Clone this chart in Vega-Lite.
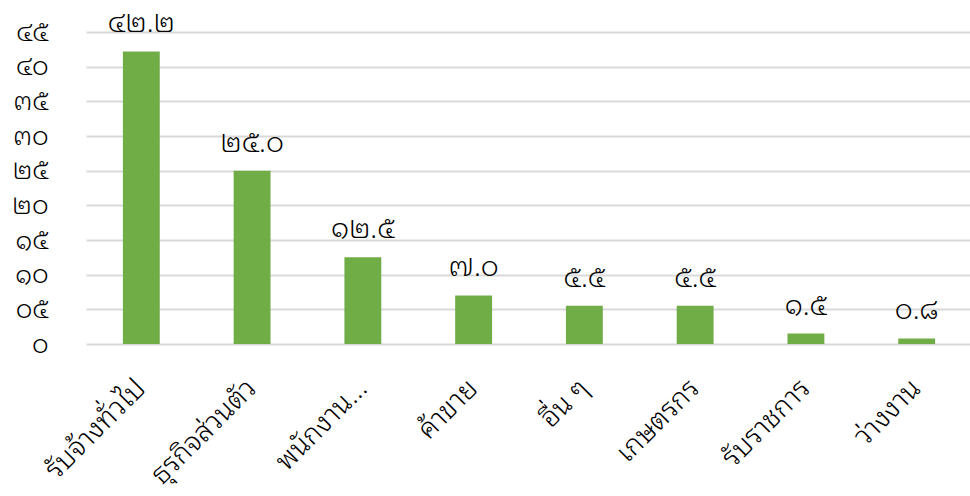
{
  "$schema": "https://vega.github.io/schema/vega-lite/v6.json",
  "width": 886,
  "height": 312,
  "autosize": {"type": "none"},
  "padding": {"left": 86, "top": 32, "right": 0, "bottom": 152},
  "background": "white",
  "config": {"view": {"stroke": null}, "font": "Noto Sans Thai Looped, Noto Serif Thai, Noto Sans Thai, Loma, Garuda, sans-serif"},
  "data": {
    "values": [
      {"group": "รับจ้างทั่วไป", "value": 42.2, "label": "๔๒.๒"},
      {"group": "ธุรกิจส่วนตัว", "value": 25.0, "label": "๒๕.๐"},
      {"group": "พนักงาน...", "value": 12.5, "label": "๑๒.๕"},
      {"group": "ค้าขาย", "value": 7.0, "label": "๗.๐"},
      {"group": "อื่น ๆ", "value": 5.5, "label": "๕.๕"},
      {"group": "เกษตรกร", "value": 5.5, "label": "๕.๕"},
      {"group": "รับราชการ", "value": 1.5, "label": "๑.๕"},
      {"group": "ว่างงาน", "value": 0.8, "label": "๐.๘"}
    ]
  },
  "encoding": {
    "x": {
      "field": "group", "type": "nominal", "sort": null,
      "scale": {"paddingInner": 0.667, "paddingOuter": 0.333},
      "axis": {"title": null, "labelAngle": -45, "labelAlign": "right", "labelBaseline": "middle", "labelFontSize": 28, "labelFontWeight": 300, "labelColor": "#000000", "labelPadding": 40, "ticks": false, "domain": false, "labelLimit": 300}
    },
    "y": {
      "field": "value", "type": "quantitative",
      "scale": {"domain": [0, 45]},
      "axis": {"title": null, "values": [0,5,10,15,20,25,30,35,40,45],
        "labelExpr": "['๐','๐๕','๑๐','๑๕','๒๐','๒๕','๓๐','๓๕','๔๐','๔๕'][round(datum.value/5)]",
        "labelFontSize": 26, "labelFontWeight": 300, "labelColor": "#000000", "labelPadding": 38, "ticks": false, "domain": false,
        "gridColor": "#d9d9d9", "gridWidth": 2}
    }
  },
  "layer": [
    {"mark": {"type": "bar", "color": "#70AD47"}},
    {"mark": {"type": "text", "fontSize": 28, "fontWeight": 300, "color": "#000000", "baseline": "middle", "dy": -27}, "encoding": {"text": {"field": "label"}}}
  ]
}
